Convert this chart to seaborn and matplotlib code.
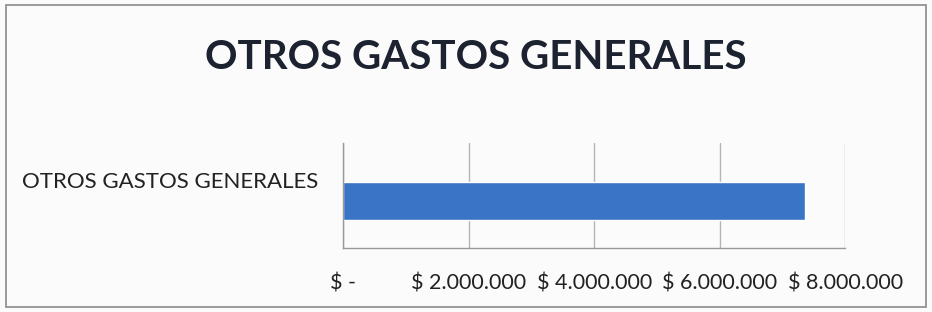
import matplotlib
matplotlib.use("Agg")
import matplotlib.pyplot as plt
import matplotlib.transforms as mtransforms
import seaborn as sns
import pandas as pd
from matplotlib.patches import Rectangle

categories = ["OTROS GASTOS GENERALES"]
values = [7350000]
tick_values = [0, 2000000, 4000000, 6000000, 8000000]
tick_labels = ["$ -", "$ 2.000.000", "$ 4.000.000", "$ 6.000.000", "$ 8.000.000"]
title = "OTROS GASTOS GENERALES"

df = pd.DataFrame({"cat": categories, "val": values})

sns.set_theme(style="white")
plt.rcParams["font.family"] = ["Lato", "DejaVu Sans"]

fig = plt.figure(figsize=(9.32, 3.12), dpi=100, facecolor="#fbfbfb")
ax = fig.add_axes([0.368, 0.205, 0.539, 0.337])
ax.set_facecolor("#fbfbfb")

sns.barplot(data=df, x="val", y="cat", orient="h", color="#3a74c6",
            saturation=1, width=0.362, ax=ax)

ax.set_xlim(0, 8000000)
ax.set_ylim(0.448, -0.552)
ax.set_xticks(tick_values)
ax.set_xticklabels(tick_labels, fontsize=15.5, color="#222222")
ax.tick_params(axis="x", length=0, pad=18)
ax.tick_params(axis="y", length=0, pad=18, labelsize=16, labelcolor="#222222")
offset = mtransforms.ScaledTranslation(0, 0.21, fig.dpi_scale_trans)
for lab in ax.get_yticklabels():
    lab.set_transform(lab.get_transform() + offset)
ax.set_xlabel("")
ax.set_ylabel("")
ax.grid(axis="x", color="#b5b5b5", linewidth=1)
ax.set_axisbelow(True)
for s in ["top", "right"]:
    ax.spines[s].set_visible(False)
for s in ["left", "bottom"]:
    ax.spines[s].set_color("#9a9a9a")
    ax.spines[s].set_linewidth(1)

fig.text(0.511, 0.817, title, ha="center", va="center", fontsize=29,
         fontweight="bold", color="#1c2230")

fig.patches.append(Rectangle((0.006, 0.016), 0.988, 0.968, transform=fig.transFigure,
                             fill=False, edgecolor="#8a8a8a", linewidth=1.2))

fig.savefig("out.png", dpi=100, facecolor=fig.get_facecolor())
